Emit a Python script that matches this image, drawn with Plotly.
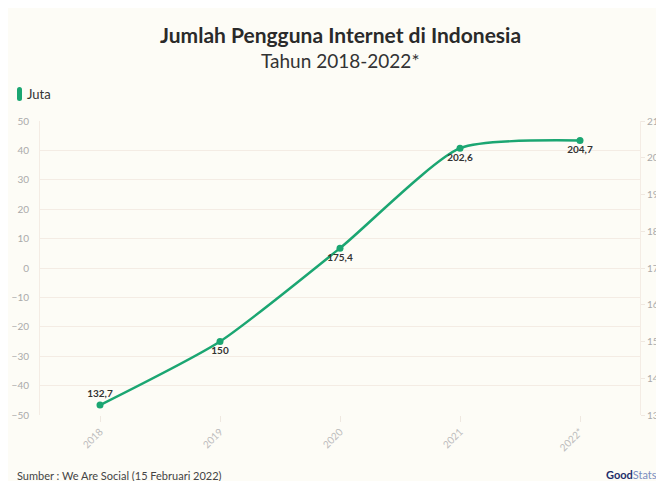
import plotly.graph_objects as go

years = ["2018", "2019", "2020", "2021", "2022*"]
users = [132.7, 150, 175.4, 202.6, 204.7]
labels = ["132,7", "150", "175,4", "202,6", "204,7"]
label_pos = ["top center", "bottom center", "bottom center", "bottom center", "bottom center"]
left_ticks = list(range(-50, 51, 10))
right_ticks = list(range(130, 211, 10))

GREEN = "#1ba672"
BG = "#fdfcf6"
OFF = 8  # page body margin in the browser
W, H = 664 - OFF, 481 - OFF
ML, MR, MT, MB = 40 - OFF, 24, 121 - OFF, 66

fig = go.Figure()
# invisible trace so the left axis is drawn
fig.add_trace(go.Scatter(
    x=years, y=[0] * len(years), yaxis="y", mode="markers",
    marker=dict(opacity=0), showlegend=False, hoverinfo="skip",
))
fig.add_trace(go.Scatter(
    x=years, y=users, yaxis="y2", mode="lines+markers+text",
    line=dict(color=GREEN, width=2.5, shape="spline", smoothing=0.6),
    marker=dict(color=GREEN, size=7),
    text=labels, textposition=label_pos,
    textfont=dict(family="Lato", size=10, color="#333333", weight="bold"),
    showlegend=False, cliponaxis=False,
))

fig.update_layout(
    width=W, height=H,
    margin=dict(l=ML, r=MR, t=MT, b=MB, autoexpand=False),
    paper_bgcolor=BG, plot_bgcolor=BG,
    font=dict(family="Lato", color="#333333"),
    xaxis=dict(
        type="category", range=[-0.5, len(years) - 0.5], showgrid=False,
        ticks="outside", ticklen=6,
        tickcolor="#efe8e0", tickangle=-45, showline=False, zeroline=False,
        tickfont=dict(size=10, color="#bbbbbb"), automargin=False,
    ),
    yaxis=dict(
        range=[-50, 50], tickvals=left_ticks, showgrid=True,
        gridcolor="#f4ece4", gridwidth=1, zeroline=False,
        showline=True, linecolor="#f4ece4", automargin=False,
        tickfont=dict(size=10, color="#aaaaaa"), ticks="", ticklabelstandoff=8,
    ),
    yaxis2=dict(
        range=[130, 210], tickvals=right_ticks, overlaying="y", side="right",
        showgrid=False, zeroline=False, showline=True, linecolor="#f4ece4",
        ticks="outside", ticklen=4, tickcolor="#f0e8e0", automargin=False,
        tickfont=dict(size=10, color="#aaaaaa"), ticklabelstandoff=0,
    ),
    shapes=[dict(type="path", xref="paper", yref="paper", path="M 0 0 Z",
                 fillcolor=GREEN, line=dict(width=0))],
)

pw, ph = W - ML - MR, H - MT - MB

# helpers: convert target screen pixels to paper coords
def px(x):
    return (x - OFF - ML) / pw

def py(y):
    return (H - MB - (y - OFF)) / ph

texts = [
    ("<b>Jumlah Pengguna Internet di Indonesia</b>", 340, 34, "center", 21, "#2a2a2a"),
    ("Tahun 2018-2022*", 340, 60, "center", 19, "#333333"),
    ("Juta", 25, 94, "left", 13, "#333333"),
    ("Sumber : We Are Social (15 Februari 2022)", 15, 476, "left", 11, "#444444"),
    ("<b><span style='color:#1f2f6b'>Good</span></b><span style='color:#7a8cc0'>Stats</span>",
     604, 474, "left", 11, "#1f2f6b"),
]
fig.layout.annotations = [
    dict(text=t, x=px(x), y=py(y), xref="paper", yref="paper", xanchor=xa,
         yanchor="middle", showarrow=False, font=dict(size=s, color=c))
    for t, x, y, xa, s, c in texts
]

# legend pill shape in pixels
x0, x1, y0, y1 = 17, 22, 87, 101
r = 2.5
path = (f"M {px(x0)} {py(y0+r)} Q {px(x0)} {py(y0)} {px(x0+r)} {py(y0)} "
        f"Q {px(x1)} {py(y0)} {px(x1)} {py(y0+r)} L {px(x1)} {py(y1-r)} "
        f"Q {px(x1)} {py(y1)} {px(x1-r)} {py(y1)} Q {px(x0)} {py(y1)} {px(x0)} {py(y1-r)} Z")
fig.layout.shapes[0].path = path

fig.write_html("out.html")
